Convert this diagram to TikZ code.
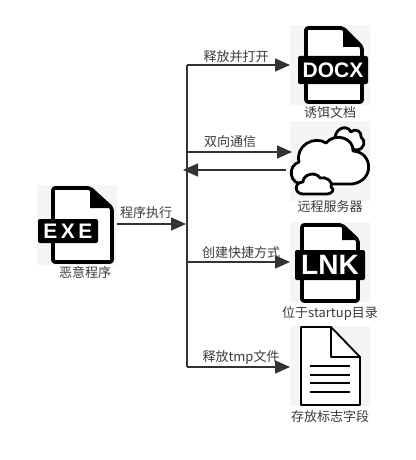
\documentclass[tikz,border=0pt]{standalone}
\usepackage{fontspec}
\setmainfont{Noto Sans CJK SC}
\newfontfamily\bandfont{Liberation Sans}
\usepackage{tikz}
\usetikzlibrary{arrows.meta, positioning}

\definecolor{tilegray}{HTML}{F5F5F5}
\definecolor{linegray}{HTML}{333333}
\definecolor{textgray}{HTML}{3A3A3A}

\tikzset{
    tile/.style={fill=tilegray, minimum width=80, minimum height=80, inner sep=0, rounded corners=1},
    caption/.style={text=textgray, font=\fontsize{13}{13}\selectfont, inner sep=0},
    conn/.style={draw=linegray, line width=1.5, -{Triangle[length=15, width=13]}},
    trunk/.style={draw=linegray, line width=2},
    outline/.style={draw=black, line width=3.6, line join=round, fill=white},
    thinline/.style={draw=black, line width=1.8, line join=round},
    bandtext/.style={text=white, inner sep=0}
}

% outline: left, right, bottom; fold corner; band corners
\newcommand{\fileicon}[8]{
    \begin{scope}[shift={(#1)}]
        \draw[outline, rounded corners=2] (#2,3) -- (#5,3) -- (#3,#6) -- (#3,#4) -- (#2,#4) -- cycle;
        \fill[black] (#5,3) -- (#3,#6) -- (#5,#6) -- cycle;
        \fill[black, rounded corners=2] (#7) rectangle (#8);
    \end{scope}
}

\begin{document}
\begin{tikzpicture}[x=1pt, y=-1pt]
    \useasboundingbox (0,0) rectangle (415,460);

    % tiles
    \node[tile, anchor=north west] (exe) at (37,185) {};
    \node[tile, anchor=north west] (docx) at (290,25) {};
    \node[tile, anchor=north west] (cloud) at (290,121) {};
    \node[tile, anchor=north west] (lnk) at (290,222) {};
    \node[tile, anchor=north west] (tmp) at (290,326) {};

    % file icons
    \fileicon{37,185}{16}{75}{77}{53}{23}{1,34}{61,58}
    \node[bandtext, font=\bandfont\bfseries\fontsize{21}{21}\selectfont] (exetext) at (68,231) {E\,X\,E};
    \fileicon{290,25}{16}{72}{77}{53}{22}{8,31}{78,59}
    \node[bandtext, font=\bandfont\bfseries\fontsize{21}{21}\selectfont] (docxtext) at (333,70) {DOCX};
    \fileicon{290,222}{12}{68}{79}{52}{18}{5,28}{75,58}
    \node[bandtext, font=\bandfont\bfseries\fontsize{28}{28}\selectfont] (lnktext) at (330,265) {LNK};

    % plain file
    \draw[thinline, fill=white] (301,327) -- (331,327) -- (360,357) -- (360,405) -- (301,405) -- cycle;
    \draw[thinline] (331,327) -- (331,357) -- (360,357);
    \foreach \y in {366,375,383,392}
        \draw[thinline, line width=1.5] (310,\y) -- (350,\y);

    % clouds
    \draw[outline, line width=2.8] (336,143) .. controls (331,131) and (346,122) .. (351,132)
        .. controls (357,127) and (362,133) .. (361,137) .. controls (366,140) and (365,150) .. (356,150) -- cycle;
    \draw[outline, line width=2.8] (304,184) .. controls (289,185) and (287,166) .. (299,162)
        .. controls (295,146) and (314,135) .. (326,143) .. controls (335,132) and (354,138) .. (353,151)
        .. controls (373,152) and (375,181) .. (352,184) -- cycle;
    \draw[outline, line width=2.8] (303,194) .. controls (294,194) and (294,182) .. (303,182)
        .. controls (303,174) and (316,171) .. (320,178) .. controls (326,176) and (334,182) .. (331,187)
        .. controls (336,190) and (331,194) .. (327,194) -- cycle;

    % captions
    \node[caption] (exelabel) at (85,273) {恶意程序};
    \node[caption] (docxlabel) at (330,113) {诱饵文档};
    \node[caption] (cloudlabel) at (330,207) {远程服务器};
    \node[caption] (lnklabel) at (330,313) {位于startup目录};
    \node[caption] (tmplabel) at (330,417) {存放标志字段};

    % connectors
    \coordinate (top) at (187,65);
    \coordinate (bottom) at (187,367);
    \coordinate (join) at (186,224);
    \coordinate (out1) at (188,152);
    \coordinate (back1) at (183,170);
    \coordinate (in1) at (188,262);

    \draw[trunk] (top) -- (bottom);
    \draw[conn] (exe.east |- join) -- (join);
    \draw[conn] (top) -- (top -| docx.west);
    \draw[conn] (out1) -- ([xshift=2]out1 -| cloud.west);
    \draw[conn] ([xshift=-4]back1 -| cloud.west) -- (back1);
    \draw[conn] (in1) -- (in1 -| lnk.west);
    \draw[conn] (bottom) -- (bottom -| tmp.west);

    % connector labels
    \node[caption] (runlabel) at (146,213) {程序执行};
    \node[caption] (openlabel) at (236,57) {释放并打开};
    \node[caption] (commlabel) at (230,142) {双向通信};
    \node[caption] (linklabel) at (241,253) {创建快捷方式};
    \node[caption] (droplabel) at (241,357) {释放tmp文件};
\end{tikzpicture}
\end{document}
